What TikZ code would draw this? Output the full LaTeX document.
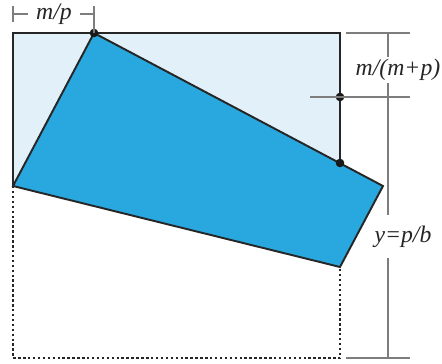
\documentclass[tikz,border=0pt]{standalone}
\usepackage{fontspec}
\setmainfont{Liberation Serif}
\usepackage{tikz}
\usetikzlibrary{positioning,calc}
\definecolor{sheetPale}{RGB}{226,240,250}
\definecolor{sheetBlue}{RGB}{41,168,224}
\definecolor{dimGray}{RGB}{125,125,125}
\tikzset{
  edgeln/.style={line width=1.1pt, black!85, line join=miter},
  foldln/.style={line width=1.4pt, black!85, dash pattern=on 1.4pt off 1.4pt},
  dimln/.style={line width=0.6pt, dimGray},
  dimlab/.style={inner sep=0pt, font=\fontsize{13.5}{16}\selectfont\itshape, text=black!85},
}
\newcommand{\dotpt}[1]{%
  \fill[black!90] #1 circle (4.3);
}

\begin{document}
\begin{tikzpicture}[x=0.2mm, y=-0.2mm]
    \useasboundingbox (0,0) rectangle (442,364);
    % corners of the sheet
    \coordinate (tl) at (13,33);
    \coordinate (tr) at (340,33);
    \coordinate (bl) at (13,358);
    \coordinate (br) at (340,358);
    % folded flap
    \coordinate (top) at (94,33);
    \coordinate (tip) at (383,186);
    \coordinate (low) at (340,267);
    \coordinate (lft) at (13,186);
    \coordinate (mid) at (340,97);
    \coordinate (cut) at (340,163);
    % sheet and flap
    \fill[sheetPale] (tl) rectangle (340,186);
    \fill[sheetBlue] (top) -- (tip) -- (low) -- (lft) -- cycle;
    \draw[foldln] (lft) -- (bl) -- (br) -- (low);
    \draw[edgeln] (lft) -- (tl) -- (tr) -- (cut);
    \draw[edgeln] (top) -- (tip) -- (low) -- (lft) -- cycle;
    \foreach \p in {top,mid,cut} {
      \dotpt{(\p)}
    }
    % dimension m/p
    \node[dimlab] (mp) at (54,14) {m/p};
    \draw[dimln] (13,6) -- (13,22);
    \draw[dimln] (13,14) -- (28,14);
    \draw[dimln] (80,14) -- (94,14);
    \draw[dimln] (94,6) -- (top);
    % dimension m/(m+p)
    \draw[dimln] (346,33) -- (410,33);
    \draw[dimln] (310,97) -- (410,97);
    \draw[dimln] (346,358) -- (410,358);
    \node[dimlab] (mmp) at (398,70) {m/(m+p)};
    \draw[dimln] (388,33) -- (388,57);
    \draw[dimln] (388,83) -- (388,97);
    % dimension y=p/b
    \node[dimlab] (ypb) at (403,237) {y=p/b};
    \draw[dimln] (388,97) -- (388,215);
    \draw[dimln] (388,258) -- (388,358);
  \end{tikzpicture}
\end{document}
